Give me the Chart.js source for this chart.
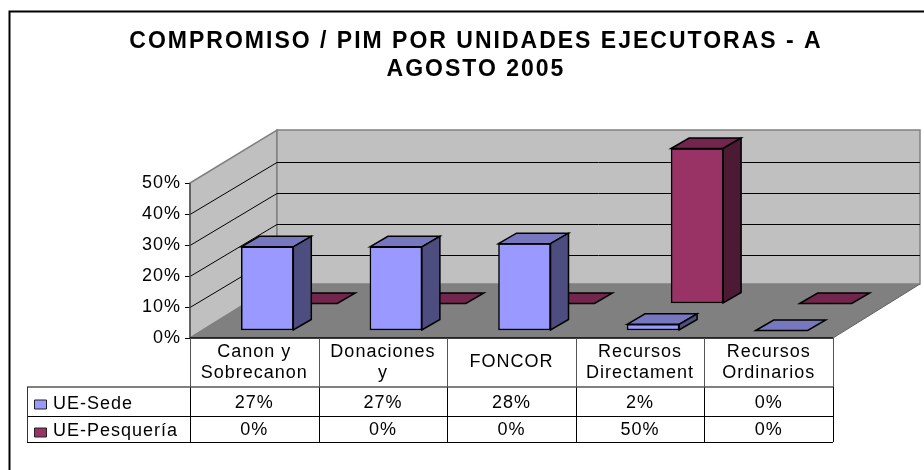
<!DOCTYPE html>
<html><head><meta charset="utf-8">
<style>html,body{margin:0;padding:0;background:#fff}canvas{display:block}</style>
<script src="https://cdn.jsdelivr.net/npm/chart.js@4/dist/chart.umd.min.js"></script>
</head><body><canvas id="c" width="924" height="470"></canvas>
<script>
const categories = [['Canon y','Sobrecanon'],['Donaciones','y'],['FONCOR'],['Recursos','Directament'],['Recursos','Ordinarios']];
const sede = [27,27,28,2,0];
const pesqueria = [0,0,0,50,0];
const titleLines = ['COMPROMISO / PIM POR UNIDADES EJECUTORAS - A','AGOSTO 2005'];
const FONT = '"Liberation Sans", Arial, sans-serif';
const SPACING = '1px';
const TITLE_SPACING = '2px';
const depth = {x:87, floorY:54, gridY:52, barX:18, barY:10.5};
const looks = [
  {front:'#9999FF', top:'#7777BF', side:'#4D4D80', dx:13, dy:-7.5},
  {front:'#993366', top:'#73264D', side:'#4D1A33', dx:57, dy:-34.5}
];
function poly(ctx, pts, fill, stroke, lw){
  ctx.beginPath();
  pts.forEach((p,i)=> i?ctx.lineTo(p[0],p[1]):ctx.moveTo(p[0],p[1]));
  ctx.closePath();
  if(fill){ctx.fillStyle=fill;ctx.fill();}
  if(stroke){ctx.strokeStyle=stroke;ctx.lineWidth=lw||1;ctx.stroke();}
}
function line(ctx,x1,y1,x2,y2,color,lw){
  ctx.beginPath();ctx.moveTo(x1,y1);ctx.lineTo(x2,y2);ctx.strokeStyle=color;ctx.lineWidth=lw||1;ctx.stroke();
}
const scene = {
  id:'scene',
  beforeDraw(chart){
    const c=chart.ctx, a=chart.chartArea, d=depth;
    const tb=chart.titleBlock;
    if(tb && !tb._spaced){
      const orig=tb.draw.bind(tb);
      tb.draw=function(){c.save();c.letterSpacing=TITLE_SPACING;orig();c.restore();};
      tb._spaced=true;
    }
    c.letterSpacing=SPACING;
    c.save();
    c.fillStyle='#fff';c.fillRect(0,0,chart.width,chart.height);
    c.strokeStyle='#000';c.lineWidth=2;
    c.beginPath();c.moveTo(9.5,chart.height+5);c.lineTo(9.5,11.5);c.lineTo(chart.width+5,11.5);c.stroke();
    const l=a.left,r=a.right,b=a.bottom,t=a.top;
    const bx=l+d.x, by=b-d.floorY, ty=t-d.floorY+1;
    poly(c,[[l,b],[bx,by],[bx,ty],[l,t]],'#C0C0C0','#808080',1.5);
    poly(c,[[bx,ty],[r+d.x,ty],[r+d.x,by],[bx,by]],'#C0C0C0','#808080',1.5);
    poly(c,[[l,b],[r,b],[r+d.x,by],[bx,by]],'#808080',null);
    line(c,r,b,r+d.x,by,'#606060',1);
    c.restore();
  },
  beforeDatasetsDraw(chart){
    const c=chart.ctx, a=chart.chartArea, y=chart.scales.y, d=depth;
    c.save();
    y.ticks.forEach(tk=>{
      if(tk.value===0||tk.value===50) return;
      const p=Math.round(y.getPixelForValue(tk.value))+0.5;
      line(c,a.left,p,a.left+d.x,p-d.gridY,'#000',1);
      line(c,a.left+d.x,p-d.gridY,a.right+d.x,p-d.gridY,'#000',1);
    });
    line(c,a.left,y.getPixelForValue(0),a.left,y.getPixelForValue(50),'#505050',1.5);
    line(c,a.left,a.bottom,a.right,a.bottom,'#000',1.5);
    c.restore();
  },
  beforeDatasetDraw(chart,args){
    const lk=looks[args.index];
    chart.ctx.save();
    chart.ctx.translate(lk.dx,lk.dy);
  },
  afterDatasetDraw(chart,args){
    const c=chart.ctx, lk=looks[args.index], d=depth;
    args.meta.data.forEach(bar=>{
      const L=bar.x-bar.width/2, R=bar.x+bar.width/2, T=bar.y, B=bar.base;
      poly(c,[[L,T],[L+d.barX,T-d.barY],[R+d.barX,T-d.barY],[R,T]],lk.top,'#000',1.5);
      if(B-T>0.5){
        poly(c,[[R,T],[R+d.barX,T-d.barY],[R+d.barX,B-d.barY],[R,B]],lk.side,'#000',1.5);
      }
    });
    c.restore();
  },
  afterDraw(chart){
    const c=chart.ctx, a=chart.chartArea, xs=chart.scales.x;
    const leftEdge=27, rows=[387,416,442], head=338;
    const n=categories.length, w=(a.right-a.left)/n;
    c.save();
    c.font='18px '+FONT;c.textBaseline='middle';
    for(let i=0;i<=n;i++){
      const x=Math.round(a.left+i*w)+0.5;
      line(c,x,head,x,rows[0],'#555',1);
      line(c,x,rows[0],x,rows[2],'#000',1);
    }
    line(c,leftEdge,rows[0],a.right,rows[0],'#555',1.5);
    line(c,leftEdge,rows[1]+.5,a.right,rows[1]+.5,'#000',1);
    line(c,leftEdge,rows[2]+.5,a.right,rows[2]+.5,'#000',1);
    line(c,leftEdge+.5,rows[0],leftEdge+.5,rows[2],'#333',1);
    chart.data.datasets.forEach((ds,k)=>{
      const cy=k===0?403:430;
      const keyTop=k===0?400:428;
      poly(c,[[34.5,keyTop],[46.5,keyTop],[46.5,keyTop+9],[34.5,keyTop+9]],looks[k].front,'#222',1);
      c.fillStyle='#000';c.textAlign='left';
      c.fillText(ds.label,53,cy+1);
      c.textAlign='center';
      ds.data.forEach((v,i)=>c.fillText(v+'%',xs.getPixelForValue(i),cy));
    });
    c.restore();
  }
};
new Chart(document.getElementById('c'),{
  type:'bar',
  data:{labels:categories,datasets:[
    {label:'UE-Sede',data:sede,backgroundColor:looks[0].front,borderColor:'#000',borderWidth:1.5,borderSkipped:false,barThickness:52,grouped:false,clip:false},
    {label:'UE-Pesquería',data:pesqueria,backgroundColor:looks[1].front,borderColor:'#000',borderWidth:1.5,borderSkipped:false,barThickness:52,grouped:false,clip:false}
  ]},
  plugins:[scene],
  options:{
    responsive:false,animation:false,
    layout:{padding:{left:28,right:0,top:28,bottom:28}},
    plugins:{
      legend:{display:false},tooltip:{enabled:false},
      title:{display:true,text:titleLines,color:'#000',font:{family:FONT,size:23,weight:'bold',lineHeight:28/23},padding:{top:0,bottom:99}}
    },
    scales:{
      x:{grid:{display:false},border:{display:false},
        ticks:{color:'#000',font:{family:FONT,size:18,lineHeight:21/18},padding:6,maxRotation:0,autoSkip:false,crossAlign:'center'},
        afterFit(s){s.height=104;}},
      y:{min:0,max:50,
        grid:{drawOnChartArea:false,drawTicks:true,tickLength:5,color:'#000'},border:{display:false},
        ticks:{stepSize:10,color:'#000',padding:4,font:{family:FONT,size:18},callback:v=>v+'%'},
        afterFit(s){s.width=162;}},
      yR:{position:'right',min:0,max:50,grid:{display:false},border:{display:false},ticks:{display:false},
        afterFit(s){s.width=91;}}
    }
  }
});
</script></body></html>
